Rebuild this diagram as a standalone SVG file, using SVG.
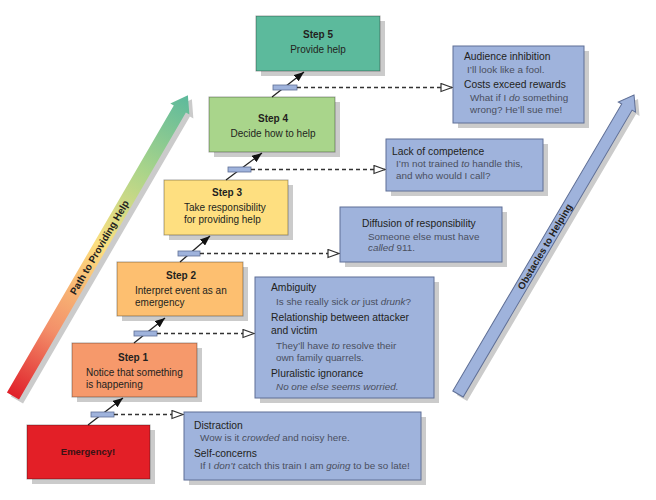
<svg xmlns="http://www.w3.org/2000/svg" width="656" height="500" viewBox="0 0 656 500">
<style>
  text { font-family: "Liberation Sans", Arial, sans-serif; }
  .shadow { fill: #cbcbcb; }
  .step { stroke: rgba(0,0,0,0.35); stroke-width: 1; }
  .obs { fill: #9fb3dc; stroke: #5f6f96; stroke-width: 1; }
  .h { font-size: 10px; font-weight: bold; fill: #231f20; text-anchor: middle; }
  .b { font-size: 10px; fill: #231f20; }
  .bc { font-size: 10px; fill: #231f20; text-anchor: middle; }
  .t { font-size: 10.3px; fill: #231f20; }
  .q { font-size: 9.9px; fill: #4a4f5e; }
  .conn { stroke: #222; stroke-width: 1.3; fill: none; }
  .dash { stroke: #333; stroke-width: 1.3; stroke-dasharray: 4 3; fill: none; }
  .tab { fill: #9fb3dc; stroke: #5f6f96; stroke-width: 0.8; }
</style>
<defs>
  <marker id="solid" viewBox="0 0 10 8" refX="10" refY="4" markerWidth="10" markerHeight="8" markerUnits="userSpaceOnUse" orient="auto">
    <path d="M0,0 L10,4 L0,8 z" fill="#111"/>
  </marker>
  <marker id="hollow" viewBox="0 0 13 10" refX="12" refY="5" markerWidth="13" markerHeight="10" markerUnits="userSpaceOnUse" orient="auto">
    <path d="M1,1 L12,5 L1,9 z" fill="#fff" stroke="#333" stroke-width="1.2"/>
  </marker>
  <linearGradient id="pathGrad" gradientUnits="userSpaceOnUse" x1="0" y1="0" x2="348" y2="0">
    <stop offset="0" stop-color="#e0202a"/>
    <stop offset="0.22" stop-color="#f3906a"/>
    <stop offset="0.5" stop-color="#fcdf80"/>
    <stop offset="0.75" stop-color="#a9d48a"/>
    <stop offset="1" stop-color="#5cb99c"/>
  </linearGradient>
</defs>

<!-- Side arrows -->
<g id="path-arrow">
  <g transform="translate(17,400) rotate(-59.83)">
    <polygon class="shadow" points="0,-7 332,-7 332,-11 348,0 332,11 332,7 0,7"/>
  </g>
  <g transform="translate(13,396) rotate(-59.83)">
    <polygon fill="url(#pathGrad)" points="0,-7 332,-7 332,-11 348,0 332,11 332,7 0,7"/>
    <text x="172" y="3.5" style="font-size:10px;font-weight:bold;fill:#231f20;text-anchor:middle">Path to Providing Help</text>
  </g>
</g>
<g id="obstacles-arrow">
  <g transform="translate(462,398) rotate(-59.52)">
    <polygon class="shadow" points="0,-6 333,-6 333,-10 347,0 333,10 333,6 0,6"/>
  </g>
  <g transform="translate(458,394) rotate(-59.52)">
    <polygon class="obs" points="0,-6 333,-6 333,-10 347,0 333,10 333,6 0,6"/>
    <text x="171" y="3.5" style="font-size:9.8px;font-weight:bold;fill:#231f20;text-anchor:middle">Obstacles to Helping</text>
  </g>
</g>

<!-- Step nodes -->
<g id="emergency">
  <rect class="shadow" x="32" y="430" width="123" height="54"/>
  <rect class="step" x="27" y="425" width="123" height="54" fill="#e31f27"/>
  <text x="88" y="455" style="font-size:9.5px;font-weight:bold;fill:#3a1214;text-anchor:middle">Emergency!</text>
</g>
<g id="step1">
  <rect class="shadow" x="77" y="348" width="125" height="54"/>
  <rect class="step" x="72" y="343" width="125" height="54" fill="#f6996b"/>
  <text class="h" x="133" y="361">Step 1</text>
  <text class="b" x="86" y="376">Notice that something</text>
  <text class="b" x="86" y="388">is happening</text>
</g>
<g id="step2">
  <rect class="shadow" x="122" y="267" width="126" height="54"/>
  <rect class="step" x="117" y="262" width="126" height="54" fill="#fdbf70"/>
  <text class="h" x="181" y="279">Step 2</text>
  <text class="b" x="135" y="294">Interpret event as an</text>
  <text class="b" x="135" y="306">emergency</text>
</g>
<g id="step3">
  <rect class="shadow" x="169" y="185" width="124" height="55"/>
  <rect class="step" x="164" y="180" width="124" height="55" fill="#fedf80"/>
  <text class="h" x="227" y="196">Step 3</text>
  <text class="b" x="184" y="211">Take responsibility</text>
  <text class="b" x="184" y="223">for providing help</text>
</g>
<g id="step4">
  <rect class="shadow" x="214" y="102" width="126" height="55"/>
  <rect class="step" x="209" y="97" width="126" height="55" fill="#a9d58b"/>
  <text class="h" x="273" y="122">Step 4</text>
  <text class="bc" x="273" y="137">Decide how to help</text>
</g>
<g id="step5">
  <rect class="shadow" x="261" y="21" width="124" height="55"/>
  <rect class="step" x="256" y="16" width="124" height="55" fill="#5cba9c"/>
  <text class="h" x="318" y="38">Step 5</text>
  <text class="bc" x="318" y="53">Provide help</text>
</g>

<!-- Obstacle nodes -->
<g id="distraction">
  <rect class="shadow" x="189" y="417" width="237" height="68"/>
  <rect class="obs" x="184" y="412" width="237" height="68"/>
  <text class="t" x="194" y="429">Distraction</text>
  <text class="q" x="200" y="441">Wow is it <tspan font-style="italic">crowded</tspan> and noisy here.</text>
  <text class="t" x="194" y="457">Self-concerns</text>
  <text class="q" x="200" y="469">If I <tspan font-style="italic">don’t</tspan> catch this train I am <tspan font-style="italic">going</tspan> to be so late!</text>
</g>
<g id="ambiguity">
  <rect class="shadow" x="260" y="282" width="179" height="121"/>
  <rect class="obs" x="255" y="277" width="179" height="121"/>
  <text class="t" x="271" y="291">Ambiguity</text>
  <text class="q" x="276" y="305">Is she really sick <tspan font-style="italic">or</tspan> just <tspan font-style="italic">drunk</tspan>?</text>
  <text class="t" x="271" y="321">Relationship between attacker</text>
  <text class="t" x="271" y="334">and victim</text>
  <text class="q" x="276" y="349">They’ll have <tspan font-style="italic">to</tspan> resolve their</text>
  <text class="q" x="276" y="361">own family quarrels.</text>
  <text class="t" x="271" y="377">Pluralistic ignorance</text>
  <text class="q" x="276" y="390" font-style="italic">No one else seems worried.</text>
</g>
<g id="diffusion">
  <rect class="shadow" x="345" y="212" width="162" height="55"/>
  <rect class="obs" x="340" y="207" width="162" height="55"/>
  <text class="t" x="362" y="227">Diffusion of responsibility</text>
  <text class="q" x="368" y="240">Someone else must have</text>
  <text class="q" x="368" y="251"><tspan font-style="italic">called</tspan> 911.</text>
</g>
<g id="competence">
  <rect class="shadow" x="391" y="144" width="157" height="52"/>
  <rect class="obs" x="386" y="139" width="157" height="52"/>
  <text class="t" x="392" y="155">Lack of competence</text>
  <text class="q" x="396" y="167">I’m not trained <tspan font-style="italic">to</tspan> handle this,</text>
  <text class="q" x="396" y="179">and who would I call?</text>
</g>
<g id="audience">
  <rect class="shadow" x="458" y="51" width="131" height="77"/>
  <rect class="obs" x="453" y="46" width="131" height="77"/>
  <text class="t" x="464" y="60">Audience inhibition</text>
  <text class="q" x="467" y="73">I’ll look like a fool.</text>
  <text class="t" x="464" y="88">Costs exceed rewards</text>
  <text class="q" x="470" y="101">What if I <tspan font-style="italic">do</tspan> something</text>
  <text class="q" x="470" y="113">wrong? He’ll sue me!</text>
</g>

<!-- Connectors -->
<g id="connectors">
  <line class="conn" x1="88" y1="425" x2="123" y2="398" marker-end="url(#solid)"/>
  <line class="conn" x1="134" y1="343" x2="165" y2="318" marker-end="url(#solid)"/>
  <line class="conn" x1="180" y1="262" x2="210" y2="236" marker-end="url(#solid)"/>
  <line class="conn" x1="226" y1="180" x2="262" y2="153" marker-end="url(#solid)"/>
  <line class="conn" x1="272" y1="97" x2="304" y2="72" marker-end="url(#solid)"/>

  <rect class="tab" x="91" y="412" width="23" height="5"/>
  <rect class="tab" x="134" y="331" width="23" height="5"/>
  <rect class="tab" x="178" y="251" width="22" height="5"/>
  <rect class="tab" x="228" y="167" width="23" height="5"/>
  <rect class="tab" x="273" y="85" width="24" height="5"/>

  <line class="dash" x1="114" y1="414.5" x2="183" y2="414.5" marker-end="url(#hollow)"/>
  <line class="dash" x1="157" y1="333.5" x2="254" y2="333.5" marker-end="url(#hollow)"/>
  <line class="dash" x1="200" y1="253.5" x2="339" y2="253.5" marker-end="url(#hollow)"/>
  <line class="dash" x1="251" y1="169.5" x2="385" y2="169.5" marker-end="url(#hollow)"/>
  <line class="dash" x1="297" y1="87.5" x2="452" y2="87.5" marker-end="url(#hollow)"/>
</g>
</svg>
